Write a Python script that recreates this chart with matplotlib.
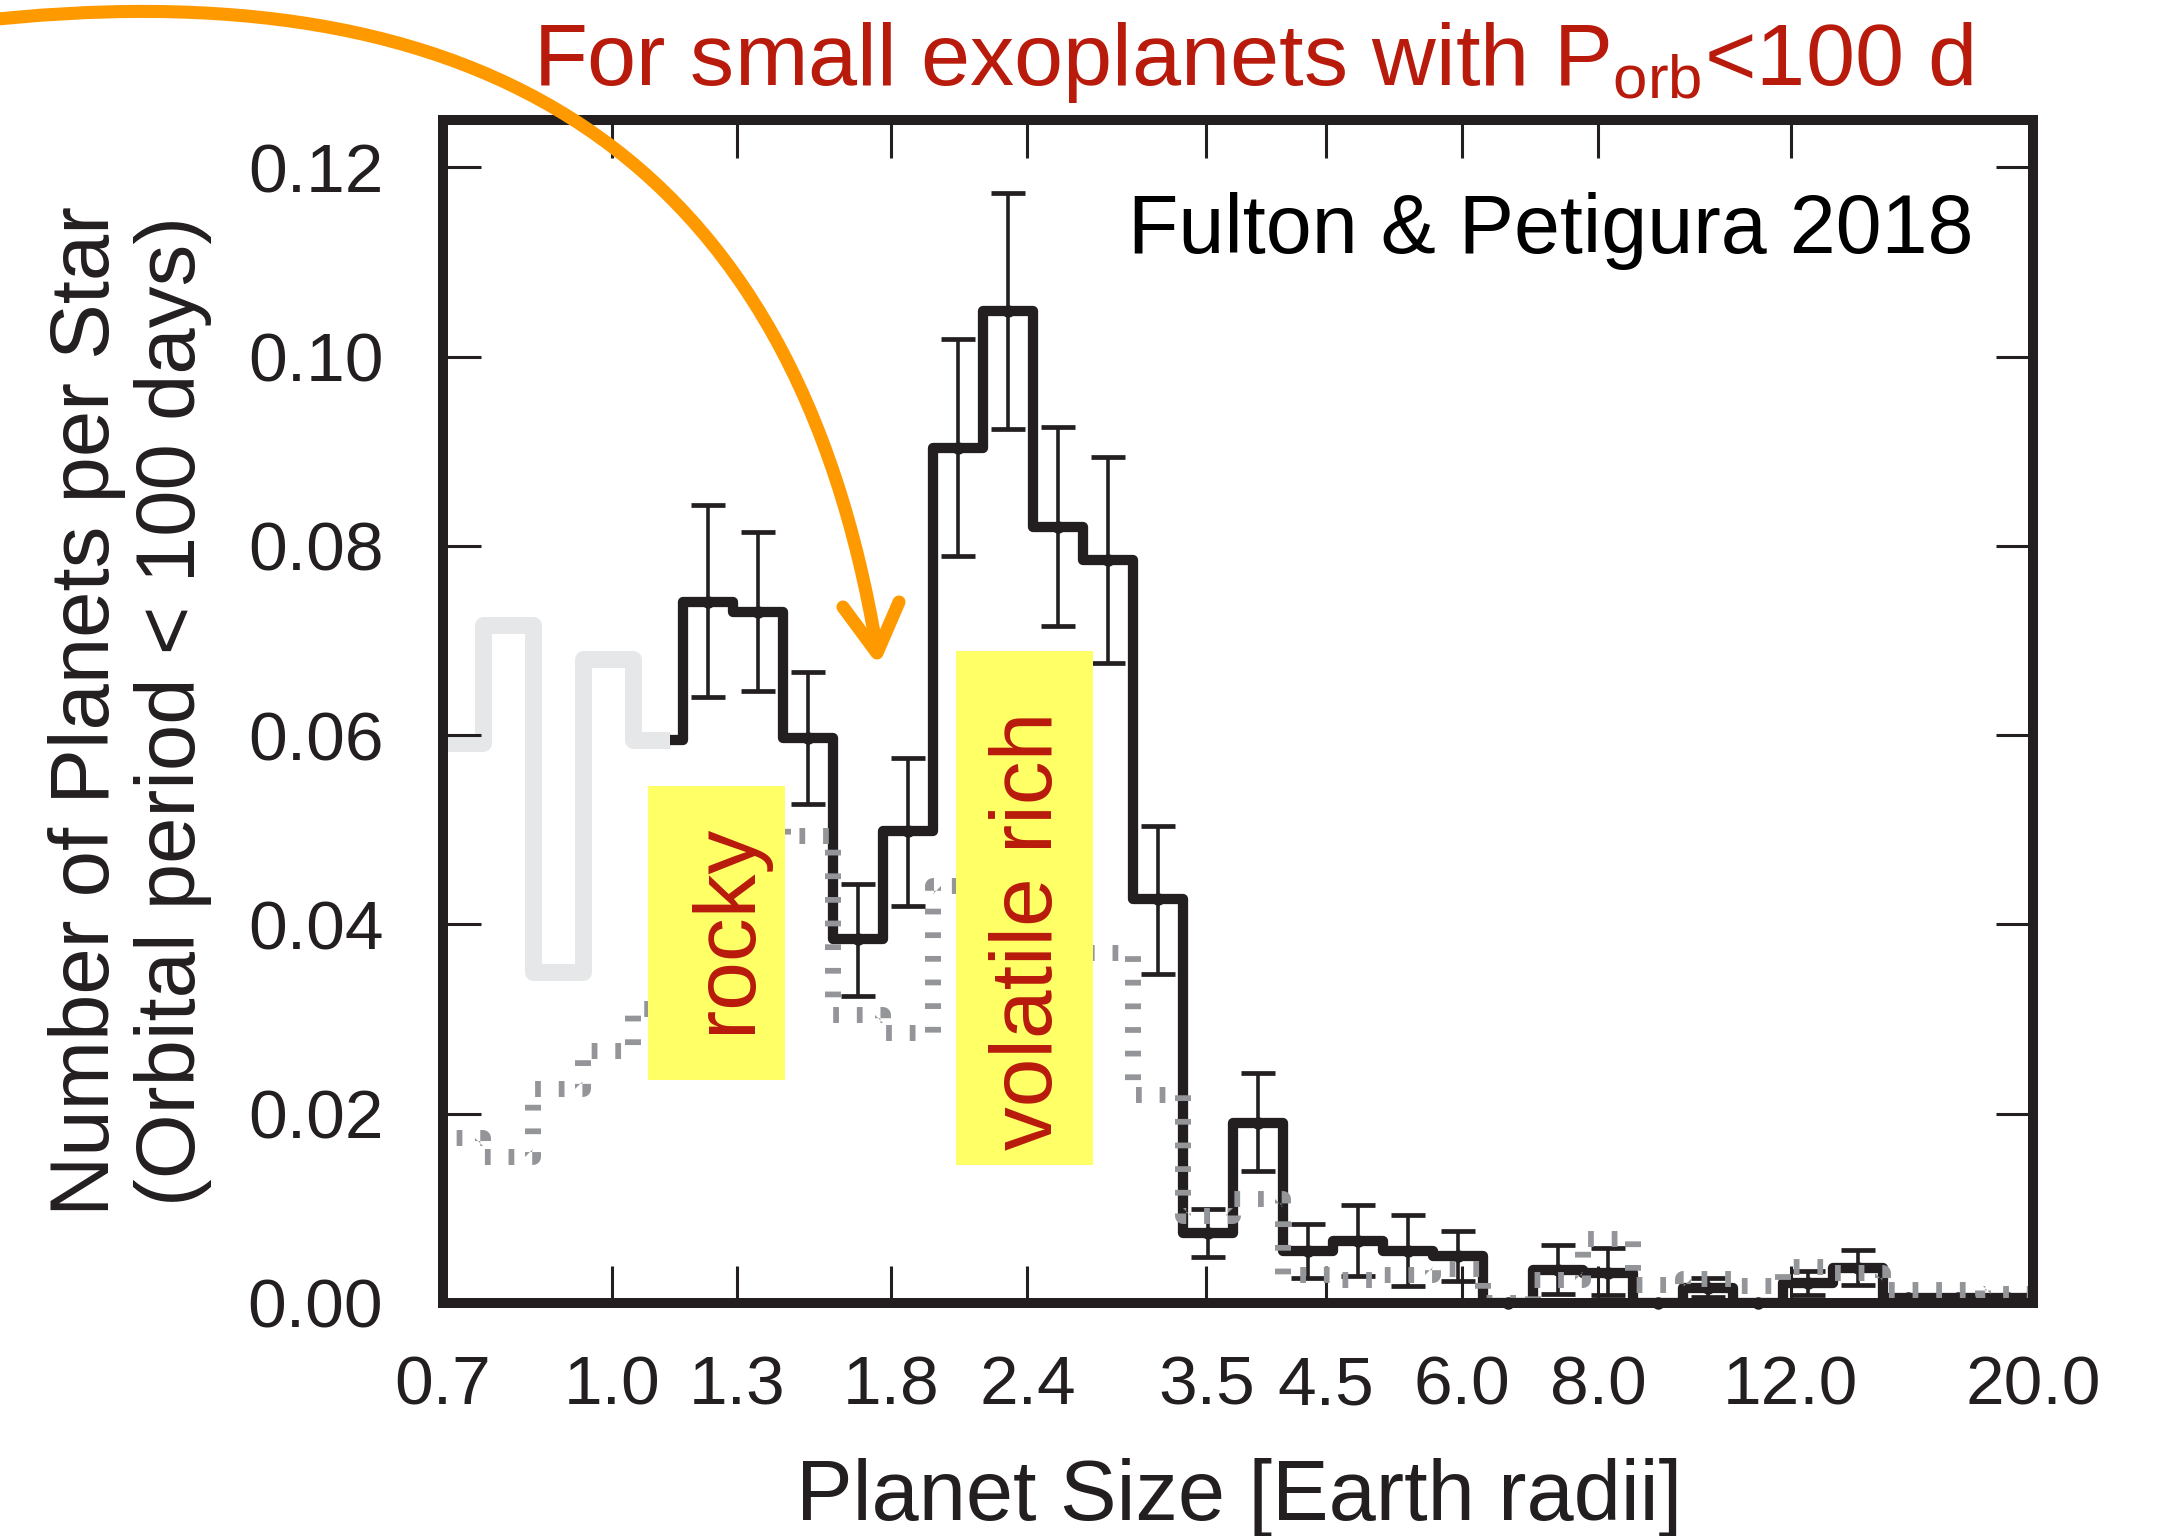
import numpy as np
import matplotlib
matplotlib.use("Agg")
import matplotlib.pyplot as plt
from matplotlib.patches import Rectangle, PathPatch
from matplotlib.path import Path
from matplotlib.lines import Line2D
from matplotlib.ticker import NullLocator, FixedLocator, FixedFormatter

plt.rcParams['font.family'] = ['Liberation Sans', 'DejaVu Sans']
plt.rcParams['mathtext.fontset'] = 'custom'
plt.rcParams['mathtext.rm'] = 'Liberation Sans'
plt.rcParams['mathtext.it'] = 'Liberation Sans:italic'

# ---------------------------------------------------------------- data
# 35 log-spaced radius bins between 0.5 and 20 Earth radii
bin_edges = np.logspace(np.log10(0.5), np.log10(20.0), 36)
radius_cut = 1.13          # below this radius the occurrence is shown faded

# faded occurrence, bins 3-7 (up to the cut)
faint_occ = [0.0592, 0.0716, 0.0350, 0.0681, 0.0595]

# occurrence above the cut: remainder of bin 7, then bins 8-34
occ = [0.0595,
       0.0741, 0.0730, 0.0597, 0.0385, 0.0499, 0.0903, 0.1048, 0.0820,
       0.0785, 0.0427, 0.0074, 0.0190, 0.0055, 0.0066, 0.0055, 0.0050,
       0.0000, 0.0035, 0.0032, 0.0000, 0.0016, 0.0000, 0.0021, 0.0037,
       0.0005, 0.0005, 0.0005]

# uncertainty range for bins 8-34 (nan = no bar)
nan = np.nan
occ_lo = [0.0640, 0.0647, 0.0527, 0.0324, 0.0420, 0.0789, 0.0924, 0.0715,
          0.0676, 0.0348, 0.0049, 0.0140, 0.0026, 0.0029, 0.0018, 0.0023,
          nan, 0.0010, 0.0008, nan, 0.0006, nan, 0.0008, 0.0019,
          nan, nan, nan]
occ_hi = [0.0843, 0.0815, 0.0667, 0.0443, 0.0576, 0.1019, 0.1173, 0.0926,
          0.0894, 0.0504, 0.0099, 0.0243, 0.0083, 0.0104, 0.0093, 0.0076,
          nan, 0.0061, 0.0058, nan, 0.0026, nan, 0.0034, 0.0056,
          nan, nan, nan]

# comparison distribution, bins 3-34
comp = [0.0174, 0.0154, 0.0226, 0.0266, 0.0311, 0.0420, 0.0520, 0.0493,
        0.0304, 0.0285, 0.0441, 0.0470, 0.0420, 0.0370, 0.0220, 0.0092,
        0.0110, 0.0030, 0.0024, 0.0030, 0.0036, 0.0000, 0.0024, 0.0068,
        0.0019, 0.0025, 0.0018, 0.0038, 0.0032, 0.0014, 0.0014, 0.0010]

xtick_vals = [0.7, 1.0, 1.3, 1.8, 2.4, 3.5, 4.5, 6.0, 8.0, 12.0, 20.0]
ytick_vals = [0.00, 0.02, 0.04, 0.06, 0.08, 0.10, 0.12]

# ---------------------------------------------------------------- style
INK = '#231F20'
FAINT = '#E6E7E8'
DOTS = '#939598'
RED = '#B81A0C'
ORANGE = '#FF9900'
YELLOW = '#FFFF66'

W, H = 2163, 1536
fig = plt.figure(figsize=(W / 100, H / 100), dpi=100)
ax = fig.add_axes([443 / W, 1 - 1303 / H, (2033 - 443) / W, (1303 - 120) / H])
ax.set_xscale('log')
ax.set_xlim(0.7, 20.0)
ax.set_ylim(0.0, 0.125)

# faded part of the histogram
faint_edges = list(bin_edges[3:8]) + [radius_cut]
ax.stairs(faint_occ, faint_edges, baseline=None, color=FAINT, lw=12.2,
          joinstyle='round', capstyle='butt', zorder=1.5)

# main histogram
occ_edges = [radius_cut] + list(bin_edges[8:36])
ax.stairs(occ, occ_edges, baseline=None, color=INK, lw=7.4,
          joinstyle='round', capstyle='butt', zorder=3)

# points and error bars at geometric bin centres
centres = np.sqrt(bin_edges[8:35] * bin_edges[9:36])
vals = np.array(occ[1:])
lo = np.array(occ_lo)
hi = np.array(occ_hi)
has_err = ~np.isnan(lo)
ax.errorbar(centres[has_err], vals[has_err],
            yerr=[vals[has_err] - lo[has_err], hi[has_err] - vals[has_err]],
            fmt='none', ecolor=INK, elinewidth=2.6, capsize=12.5,
            capthick=3.4, zorder=3.5)
ax.plot(centres, vals, 'o', color=INK, ms=9, mew=0, zorder=3.6,
        clip_on=False)

# comparison distribution (dotted)
ax.stairs(comp, bin_edges[3:36], baseline=None, color=DOTS, lw=11.5,
          linestyle=(0, (0.36, 1.12)), joinstyle='round', zorder=4)

# labelled regions
rocky_x = (1.078, 1.440)
rocky_y = (0.0236, 0.0546)
vol_x = (2.065, 2.756)
vol_y = (0.0146, 0.0689)
ax.add_patch(Rectangle((rocky_x[0], rocky_y[0]), rocky_x[1] - rocky_x[0],
                       rocky_y[1] - rocky_y[0], color=YELLOW, lw=0, zorder=5))
ax.add_patch(Rectangle((vol_x[0], vol_y[0]), vol_x[1] - vol_x[0],
                       vol_y[1] - vol_y[0], color=YELLOW, lw=0, zorder=5))
ax.text(1.274, 0.0396, 'rocky', rotation=90, ha='center', va='center',
        fontsize=63, color=RED, zorder=6)
ax.text(2.413, 0.0393, 'volatile rich', rotation=90, ha='center',
        va='center', fontsize=63, color=RED, zorder=6)

# axes cosmetics
for sp in ax.spines.values():
    sp.set_linewidth(7.2)
    sp.set_color(INK)
    sp.set_zorder(10)
ax.xaxis.set_major_locator(FixedLocator(xtick_vals))
ax.xaxis.set_major_formatter(FixedFormatter([f'{v:.1f}' for v in xtick_vals]))
ax.xaxis.set_minor_locator(NullLocator())
ax.yaxis.set_major_locator(FixedLocator(ytick_vals))
ax.yaxis.set_major_formatter(FixedFormatter([f'{v:.2f}' for v in ytick_vals]))
ax.tick_params(which='major', direction='in', length=27, width=2.2,
               color=INK, top=True, right=True, labelsize=50,
               labelcolor=INK)
ax.tick_params(axis='x', pad=37)
ax.tick_params(axis='y', pad=43)

fig.text(130 / W, 1 - 711 / H,
         'Number of Planets per Star\n(Orbital period < 100 days)',
         rotation=90, ha='center', va='center', multialignment='center',
         fontsize=60, color=INK, linespacing=1.12)
fig.text(1239 / W, 1 - 1520 / H, 'Planet Size [Earth radii]',
         ha='center', va='baseline', fontsize=61, color=INK)
fig.text(1973 / W, 1 - 253 / H, 'Fulton & Petigura 2018',
         ha='right', va='baseline', fontsize=59.5, color='black')
fig.text(1973 / W, 1 - 85 / H,
         r'For small exoplanets with P$_{\mathrm{orb}}$<100 d',
         ha='right', va='baseline', fontsize=63.5, color=RED)


# curved pointer toward the radius gap
def fig_xy(x, y):
    return (x / W, 1 - y / H)


verts = [fig_xy(-30, 22), fig_xy(485, -38), fig_xy(795, 155), fig_xy(877, 650)]
curve = Path(verts, [Path.MOVETO, Path.CURVE4, Path.CURVE4, Path.CURVE4])
fig.add_artist(PathPatch(curve, transform=fig.transFigure, fill=False,
                         ec=ORANGE, lw=9.4, capstyle='round', zorder=20))
hx, hy = zip(fig_xy(843, 607), fig_xy(877, 653), fig_xy(899, 602))
fig.add_artist(Line2D(hx, hy, transform=fig.transFigure, color=ORANGE,
                      lw=9.4, solid_capstyle='round',
                      solid_joinstyle='round', zorder=20))

fig.savefig('out.png', dpi=100)
